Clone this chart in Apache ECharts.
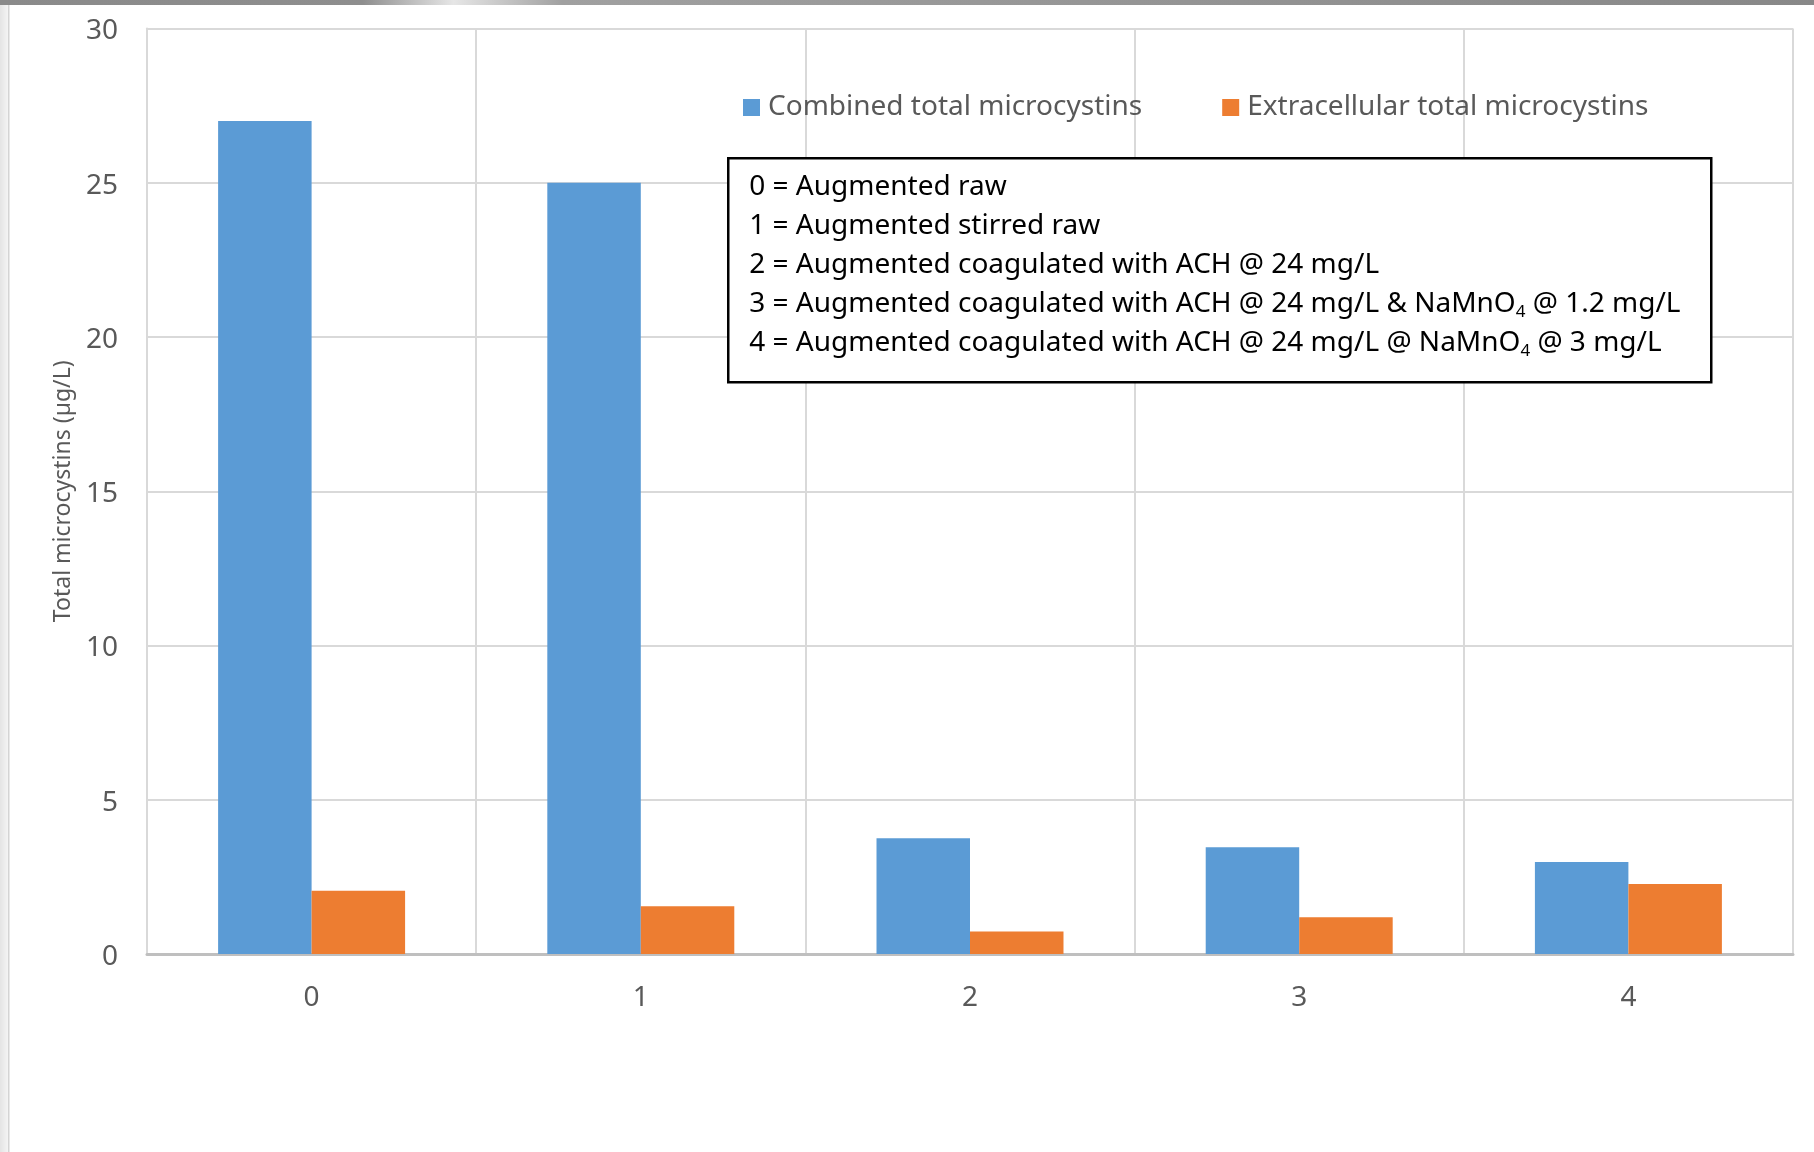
<!DOCTYPE html>
<html>
<head>
<meta charset="utf-8">
<script src="https://cdn.jsdelivr.net/npm/echarts@6/dist/echarts.min.js"></script>
<style>
html,body{margin:0;padding:0;background:#fff;}
#chart{width:1814px;height:1152px;}
</style>
</head>
<body>
<div id="chart"></div>
<script>
// ---- data ----
const categories = ['0', '1', '2', '3', '4'];
const combinedTotal = [27, 25, 3.75, 3.46, 2.98];
const extracellularTotal = [2.05, 1.55, 0.73, 1.19, 2.27];
const seriesNames = ['Combined total microcystins', 'Extracellular total microcystins'];
const yAxisTitle = 'Total microcystins (\u00b5g/L)';
const keyLines = [
  '0 = Augmented raw',
  '1 = Augmented stirred raw',
  '2 = Augmented coagulated with ACH @ 24 mg/L',
  '3 = Augmented coagulated with ACH @ 24 mg/L & NaMnO{sub|4} @ 1.2 mg/L',
  '4 = Augmented coagulated with ACH @ 24 mg/L @ NaMnO{sub|4} @ 3 mg/L'
];

const FONT = '"Noto Sans", "Open Sans", sans-serif';
const chart = echarts.init(document.getElementById('chart'), null, {renderer: 'canvas'});

chart.setOption({
  backgroundColor: '#ffffff',
  animation: false,
  textStyle: {fontFamily: FONT},
  grid: {left: 147, right: 21, top: 28.5, bottom: 198, containLabel: false},
  legend: {
    left: 738, top: 88.5,
    itemWidth: 17, itemHeight: 17, itemGap: 80,
    icon: 'rect',
    textStyle: {fontFamily: FONT, fontSize: 28, color: '#595959', padding: [0, 0, 0, 3]},
    data: seriesNames
  },
  xAxis: {
    type: 'category',
    data: categories,
    boundaryGap: true,
    axisLine: {show: true, lineStyle: {color: '#bfbfbf', width: 3}},
    axisTick: {show: false},
    axisLabel: {fontFamily: FONT, fontSize: 28, color: '#595959', margin: 30},
    splitLine: {show: true, lineStyle: {color: '#d9d9d9', width: 2}}
  },
  yAxis: {
    type: 'value',
    min: 0, max: 30, interval: 5,
    name: yAxisTitle,
    nameLocation: 'middle',
    nameGap: 72,
    nameTextStyle: {fontFamily: FONT, fontSize: 23, color: '#595959'},
    axisLine: {show: true, lineStyle: {color: '#d9d9d9', width: 2}},
    axisTick: {show: false},
    axisLabel: {
      fontFamily: FONT, fontSize: 28, color: '#595959', margin: 29,
      formatter: function (v) { return '{v|' + v + '}'; },
      rich: {v: {fontFamily: FONT, fontSize: 28, color: '#595959', padding: [6, 0, 0, 0]}}
    },
    splitLine: {show: true, lineStyle: {color: '#d9d9d9', width: 2}}
  },
  series: [
    {
      name: seriesNames[0], type: 'bar', data: combinedTotal,
      barWidth: '28.4%', barGap: '0%',
      itemStyle: {color: '#5b9bd5'}
    },
    {
      name: seriesNames[1], type: 'bar', data: extracellularTotal,
      barWidth: '28.4%', barGap: '0%',
      itemStyle: {color: '#ed7d31'}
    }
  ],
  graphic: [
    {
      type: 'rect', left: 0, top: 0, z: 200,
      shape: {x: 0, y: 0, width: 1814, height: 5},
      style: {fill: {type: 'linear', x: 0, y: 0, x2: 1, y2: 0, colorStops: [
        {offset: 0, color: '#8a8a8a'}, {offset: 0.2, color: '#8e8e8e'},
        {offset: 0.25, color: '#e6e6e6'}, {offset: 0.31, color: '#a0a0a0'},
        {offset: 1, color: '#888888'}]}}
    },
    {
      type: 'rect', left: 0, top: 5, z: 200,
      shape: {x: 0, y: 0, width: 8, height: 1147},
      style: {fill: {type: 'linear', x: 0, y: 0, x2: 1, y2: 0, colorStops: [
        {offset: 0, color: '#e4e4e4'}, {offset: 1, color: '#f4f4f4'}]}}
    },
    {
      type: 'rect', left: 8, top: 5, z: 200,
      shape: {x: 0, y: 0, width: 1.5, height: 1147},
      style: {fill: '#d4d4d4'}
    },
    {
      type: 'group', left: 727, top: 157, z: 100,
      children: [
        {
          type: 'rect', z: 100,
          shape: {x: 0, y: 0, width: 983, height: 224},
          style: {fill: '#ffffff', stroke: '#000000', lineWidth: 2.5}
        },
        {
          type: 'text', z: 101, x: 21, y: 9,
          style: {
            text: keyLines.join('\n'),
            fontFamily: FONT, fontSize: 28, lineHeight: 39, fill: '#000000',
            rich: {
              sub: {fontFamily: FONT, fontSize: 17, lineHeight: 39, padding: [16, 0, 0, 0], fill: '#000000'}
            }
          }
        }
      ]
    }
  ]
});
</script>
</body>
</html>
